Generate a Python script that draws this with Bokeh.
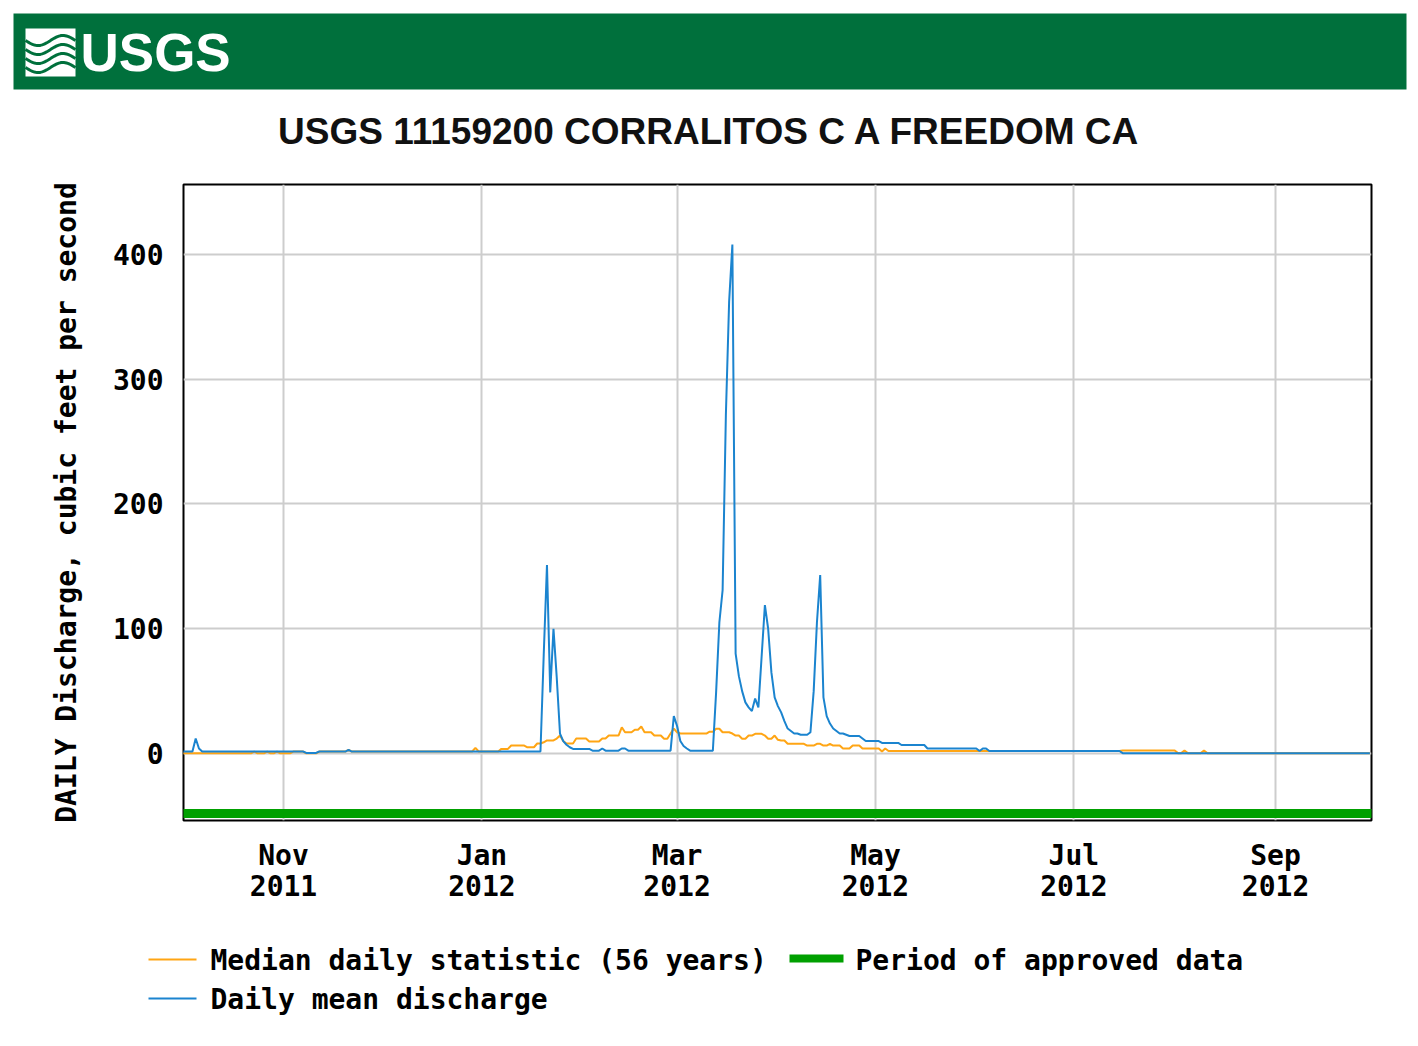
import numpy as np
from bokeh.plotting import figure
from bokeh.models import Range1d, FixedTicker
from bokeh.layouts import column
from bokeh.embed import file_html
from bokeh.resources import INLINE
from bokeh.core.properties import value

TITLE = "USGS 11159200 CORRALITOS C A FREEDOM CA"
Y_LABEL = "DAILY Discharge, cubic feet per second"
LEGEND_MEDIAN = "Median daily statistic (56 years)"
LEGEND_APPROVED = "Period of approved data"
LEGEND_MEAN = "Daily mean discharge"

# day index 0 = 2011-10-01 (water year 2012)
month_ticks = [31, 92, 152, 213, 274, 336]
month_labels = ["Nov\n2011", "Jan\n2012", "Mar\n2012", "May\n2012", "Jul\n2012", "Sep\n2012"]
y_ticks = [0, 100, 200, 300, 400]
approved_period = [0, 366]   # first and last day of approved data

# ---- daily mean discharge (cfs), one list per month ----
q_oct = [1.6, 1.6, 1.6, 1.6, 12, 4, 1.6, 1.6, 1.6, 1.6,
         1.6, 1.6, 1.6, 1.6, 1.6, 1.6, 1.6, 1.6, 1.6, 1.6,
         1.6, 1.6, 1.6, 1.6, 1.6, 1.6, 1.6, 1.6, 1.6, 1.6,
         1.6]
q_nov = [1.6, 1.6, 1.6, 1.6, 1.6, 1.6, 1.6, 0.5, 0.5, 0.5,
         0.5, 1.6, 1.6, 1.6, 1.6, 1.6, 1.6, 1.6, 1.6, 1.6,
         3, 1.6, 1.6, 1.6, 1.6, 1.6, 1.6, 1.6, 1.6, 1.6]
q_dec = [1.6, 1.6, 1.6, 1.6, 1.6, 1.6, 1.6, 1.6, 1.6, 1.6,
         1.6, 1.6, 1.6, 1.6, 1.6, 1.6, 1.6, 1.6, 1.6, 1.6,
         1.6, 1.6, 1.6, 1.6, 1.6, 1.6, 1.6, 1.6, 1.6, 1.6,
         1.6]
q_jan = [1.6, 1.6, 1.6, 1.6, 1.6, 1.6, 1.6, 1.6, 1.6, 1.6,
         1.6, 1.6, 1.6, 1.6, 1.6, 1.6, 1.6, 1.6, 1.6, 79,
         151, 49, 100, 61, 16, 10, 7, 5, 3.7, 3.7,
         3.7]
q_feb = [3.7, 3.7, 3.7, 2.3, 2.3, 2.3, 4, 2.3, 2.3, 2.3,
         2.3, 2.3, 4, 4, 2.3, 2.3, 2.3, 2.3, 2.3, 2.3,
         2.3, 2.3, 2.3, 2.3, 2.3, 2.3, 2.3, 2.3, 30]
q_mar = [22, 10, 6, 4, 2.3, 2.3, 2.3, 2.3, 2.3, 2.3,
         2.3, 2.3, 49, 105, 131, 271, 362, 408, 80, 62,
         50, 41, 37, 34, 44, 37, 78, 119, 100, 65,
         45]
q_apr = [38, 33, 26, 20, 18, 16, 16, 15, 15, 15,
         17, 50, 105, 143, 45, 30, 24, 20, 18, 16,
         16, 15, 14, 14, 14, 14, 12, 10, 10, 10]
q_may = [10, 10, 8.5, 8.5, 8.5, 8.5, 8.5, 8.5, 6.8, 6.8,
         6.8, 6.8, 6.8, 6.8, 6.8, 6.8, 4, 4, 4, 4,
         4, 4, 4, 4, 4, 4, 4, 4, 4, 4,
         4]
q_jun = [4, 2, 4, 4, 2, 2, 2, 2, 2, 2,
         2, 2, 2, 2, 2, 2, 2, 2, 2, 2,
         2, 2, 2, 2, 2, 2, 2, 2, 2, 2]
q_jul = [2, 2, 2, 2, 2, 2, 2, 2, 2, 2,
         2, 2, 2, 2, 2, 0.3, 0.3, 0.3, 0.3, 0.3,
         0.3, 0.3, 0.3, 0.3, 0.3, 0.3, 0.3, 0.3, 0.3, 0.3,
         0.3]
q_aug = [0.3, 0.3, 0.3, 0.3, 0.3, 0.3, 0.3, 0.3, 0.3, 0.3,
         0.3, 0.3, 0.3, 0.3, 0.3, 0.3, 0.3, 0.3, 0.3, 0.3,
         0.3, 0.3, 0.3, 0.3, 0.3, 0.3, 0.3, 0.3, 0.3, 0.3,
         0.3]
q_sep = [0.3, 0.3, 0.3, 0.3, 0.3, 0.3, 0.3, 0.3, 0.3, 0.3,
         0.3, 0.3, 0.3, 0.3, 0.3, 0.3, 0.3, 0.3, 0.3, 0.3,
         0.3, 0.3, 0.3, 0.3, 0.3, 0.3, 0.3, 0.3, 0.3, 0.3]

# ---- median daily statistic (56 years), cfs ----
m_oct = [0.2, 0.2, 0.2, 0.2, 0.2, 0.2, 0.2, 0.2, 0.2, 0.2,
         0.2, 0.2, 0.2, 0.2, 0.2, 0.2, 0.2, 0.2, 0.2, 0.2,
         0.2, 0.2, 1.6, 0.2, 0.2, 0.2, 1.6, 0.2, 0.2, 1.6,
         0.2]
m_nov = [0.2, 0.2, 0.2, 1.6, 1.6, 1.6, 1.6, 0.2, 0.2, 0.2,
         0.2, 1.6, 1.6, 1.6, 1.6, 1.6, 1.6, 1.6, 1.6, 1.6,
         3, 1.6, 1.6, 1.6, 1.6, 1.6, 1.6, 1.6, 1.6, 1.6]
m_dec = [1.6, 1.6, 1.6, 1.6, 1.6, 1.6, 1.6, 1.6, 1.6, 1.6,
         1.6, 1.6, 1.6, 1.6, 1.6, 1.6, 1.6, 1.6, 1.6, 1.6,
         1.6, 1.6, 1.6, 1.6, 1.6, 1.6, 1.6, 1.6, 1.6, 4.5,
         1.6]
m_jan = [1.6, 1.6, 1.6, 1.6, 1.6, 1.6, 3.7, 3.7, 3.7, 6.4,
         6.4, 6.4, 6.4, 6.4, 5, 5, 5, 8, 8, 9,
         10.5, 10.5, 10.5, 12, 14.5, 10, 8, 8, 8, 12,
         12]
m_feb = [12, 12, 9.6, 9.6, 9.6, 9.6, 12, 12, 14.4, 14.4,
         14.4, 14.4, 21, 17, 17, 17, 19, 19, 21.6, 17,
         17, 17, 14.4, 14.4, 14.4, 11.8, 11.8, 16, 20]
m_mar = [17, 16, 16, 16, 16, 16, 16, 16, 16, 16,
         17.5, 17.5, 19.8, 19.8, 17, 17, 17, 16, 14.4, 14.4,
         11.8, 11.8, 14.4, 14.4, 15.8, 15.8, 15.8, 14.4, 11.8, 11.8,
         14.4]
m_apr = [11, 10.4, 10.4, 7.8, 7.8, 7.8, 7.8, 7.8, 7.8, 6.4,
         6.4, 6.4, 7.8, 7.8, 6.4, 6.4, 7.8, 6.4, 6.4, 6.4,
         4, 4, 4, 6.4, 6.4, 6.4, 4, 4, 4, 4]
m_may = [4, 4, 1.6, 4, 2, 2, 2, 2, 2, 2,
         2, 2, 2, 2, 2, 2, 2, 2, 2, 2,
         2, 2, 2, 2, 2, 2, 2, 2, 2, 2,
         2]
m_jun = [2, 2, 2, 2, 2, 2, 2, 2, 2, 2,
         2, 2, 2, 2, 2, 2, 2, 2, 2, 2,
         2, 2, 2, 2, 2, 2, 2, 2, 2, 2]
m_jul = [2, 2, 2, 2, 2, 2, 2, 2, 2, 2,
         2, 2, 2, 2, 2, 2.4, 2.4, 2.4, 2.4, 2.4,
         2.4, 2.4, 2.4, 2.4, 2.4, 2.4, 2.4, 2.4, 2.4, 2.4,
         2.4]
m_aug = [2.4, 0.3, 0.3, 2.4, 0.3, 0.3, 0.3, 0.3, 0.3, 2.4,
         0.3, 0.3, 0.3, 0.3, 0.3, 0.3, 0.3, 0.3, 0.3, 0.3,
         0.3, 0.3, 0.3, 0.3, 0.3, 0.3, 0.3, 0.3, 0.3, 0.3,
         0.3]
m_sep = [0.3, 0.3, 0.3, 0.3, 0.3, 0.3, 0.3, 0.3, 0.3, 0.3,
         0.3, 0.3, 0.3, 0.3, 0.3, 0.3, 0.3, 0.3, 0.3, 0.3,
         0.3, 0.3, 0.3, 0.3, 0.3, 0.3, 0.3, 0.3, 0.3, 0.3]

discharge = q_oct + q_nov + q_dec + q_jan + q_feb + q_mar + q_apr + q_may + q_jun + q_jul + q_aug + q_sep
median = m_oct + m_nov + m_dec + m_jan + m_feb + m_mar + m_apr + m_may + m_jun + m_jul + m_aug + m_sep
days_q = np.arange(len(discharge))
days_m = np.arange(len(median))

BLUE = "#1b84cf"
ORANGE = "#ffa514"
GREEN = "#00a000"
USGS_GREEN = "#00703c"
MONO = "DejaVu Sans Mono"
SANS = "Liberation Sans"

W = 1410

# ---------------- header (banner + title), pixel coordinates ----------------
hdr = figure(width=W, height=182, x_range=Range1d(0, W), y_range=Range1d(182, 0),
             x_axis_type=None, y_axis_type=None, toolbar_location=None,
             output_backend="svg", min_border=0, outline_line_color=None)
hdr.min_border_left = hdr.min_border_right = hdr.min_border_top = hdr.min_border_bottom = 0
hdr.frame_align = False
hdr.quad(left=[13], right=[1406], top=[13], bottom=[89], fill_color=USGS_GREEN, line_color=None)
# logo mark: white square with green waves
hdr.quad(left=[25], right=[75], top=[28], bottom=[76], fill_color="white", line_color=None)
wx = np.linspace(25, 75, 40)
wave_xs, wave_ys = [], []
for k in range(4):
    wave_xs.append(wx)
    wave_ys.append(40 + k * 9 + 5 * np.sin((wx - 25) / 50 * 2 * np.pi))
hdr.multi_line(xs=wave_xs, ys=wave_ys, line_color=USGS_GREEN, line_width=3)
hdr.text(x=[80], y=[52], text=["USGS"], text_color="white", text_font=value(SANS),
         text_font_style="bold", text_font_size="53px", text_baseline="middle", text_align="left")
hdr.text(x=[709], y=[131], text=[TITLE], text_color="#111111", text_font=value(SANS),
         text_font_style="bold", text_font_size="37px", text_baseline="middle", text_align="center")

# ---------------- main hydrograph ----------------
p = figure(frame_width=1188, frame_height=636,
           x_range=Range1d(0.25, 365.5), y_range=Range1d(-53.7, 456.1),
           toolbar_location=None, output_backend="svg",
           min_border_left=183, min_border_right=39, min_border_top=2, min_border_bottom=100,
           background_fill_color="white", border_fill_color="white")
p.frame_align = False

p.outline_line_color = "black"
p.outline_line_width = 2

p.xaxis.ticker = FixedTicker(ticks=month_ticks)
p.xaxis.major_label_overrides = {t: lab for t, lab in zip(month_ticks, month_labels)}
p.yaxis.ticker = FixedTicker(ticks=y_ticks)
p.xgrid.ticker = FixedTicker(ticks=month_ticks)
p.ygrid.ticker = FixedTicker(ticks=y_ticks)
p.grid.grid_line_color = "#cdcdcd"
p.grid.grid_line_width = 2

for ax in (p.xaxis, p.yaxis):
    ax.axis_line_color = None
    ax.major_tick_line_color = None
    ax.minor_tick_line_color = None
    ax.major_tick_out = 0
    ax.major_tick_in = 0
    ax.minor_tick_out = 0
    ax.major_label_text_font = MONO
    ax.major_label_text_font_style = "bold"
    ax.major_label_text_font_size = "28px"
    ax.major_label_text_color = "black"
p.xaxis.major_label_standoff = 18
p.xaxis.major_label_text_line_height = 0.95
p.yaxis.major_label_standoff = 20
p.yaxis.axis_label = Y_LABEL
p.yaxis.axis_label_text_font = MONO
p.yaxis.axis_label_text_font_style = "bold"
p.yaxis.axis_label_text_font_size = "28px"
p.yaxis.axis_label_text_color = "black"
p.yaxis.axis_label_standoff = 27

p.line(x=[approved_period[0] - 1, approved_period[1]], y=[-48, -48],
       line_color=GREEN, line_width=9, line_cap="butt")
p.line(x=days_m, y=median, line_color=ORANGE, line_width=2)
p.line(x=days_q, y=discharge, line_color=BLUE, line_width=2)

# ---------------- legend, pixel coordinates ----------------
leg = figure(width=W, height=118, x_range=Range1d(0, W), y_range=Range1d(1038, 920),
             x_axis_type=None, y_axis_type=None, toolbar_location=None,
             output_backend="svg", min_border=0, outline_line_color=None)
leg.min_border_left = leg.min_border_right = leg.min_border_top = leg.min_border_bottom = 0
leg.frame_align = False
leg.segment(x0=[148], y0=[959], x1=[196], y1=[959], line_color=ORANGE, line_width=2)
leg.segment(x0=[148], y0=[998], x1=[196], y1=[998], line_color=BLUE, line_width=2)
leg.segment(x0=[789], y0=[958], x1=[843], y1=[958], line_color=GREEN, line_width=8, line_cap="butt")
leg.text(x=[210, 855, 210], y=[960, 960, 999], text=[LEGEND_MEDIAN, LEGEND_APPROVED, LEGEND_MEAN],
         text_font=value(MONO), text_font_style="bold", text_font_size="28px",
         text_color="black", text_baseline="middle", text_align="left")

layout = column(hdr, p, leg, spacing=0)
open("out.html", "w").write(file_html(layout, INLINE))
